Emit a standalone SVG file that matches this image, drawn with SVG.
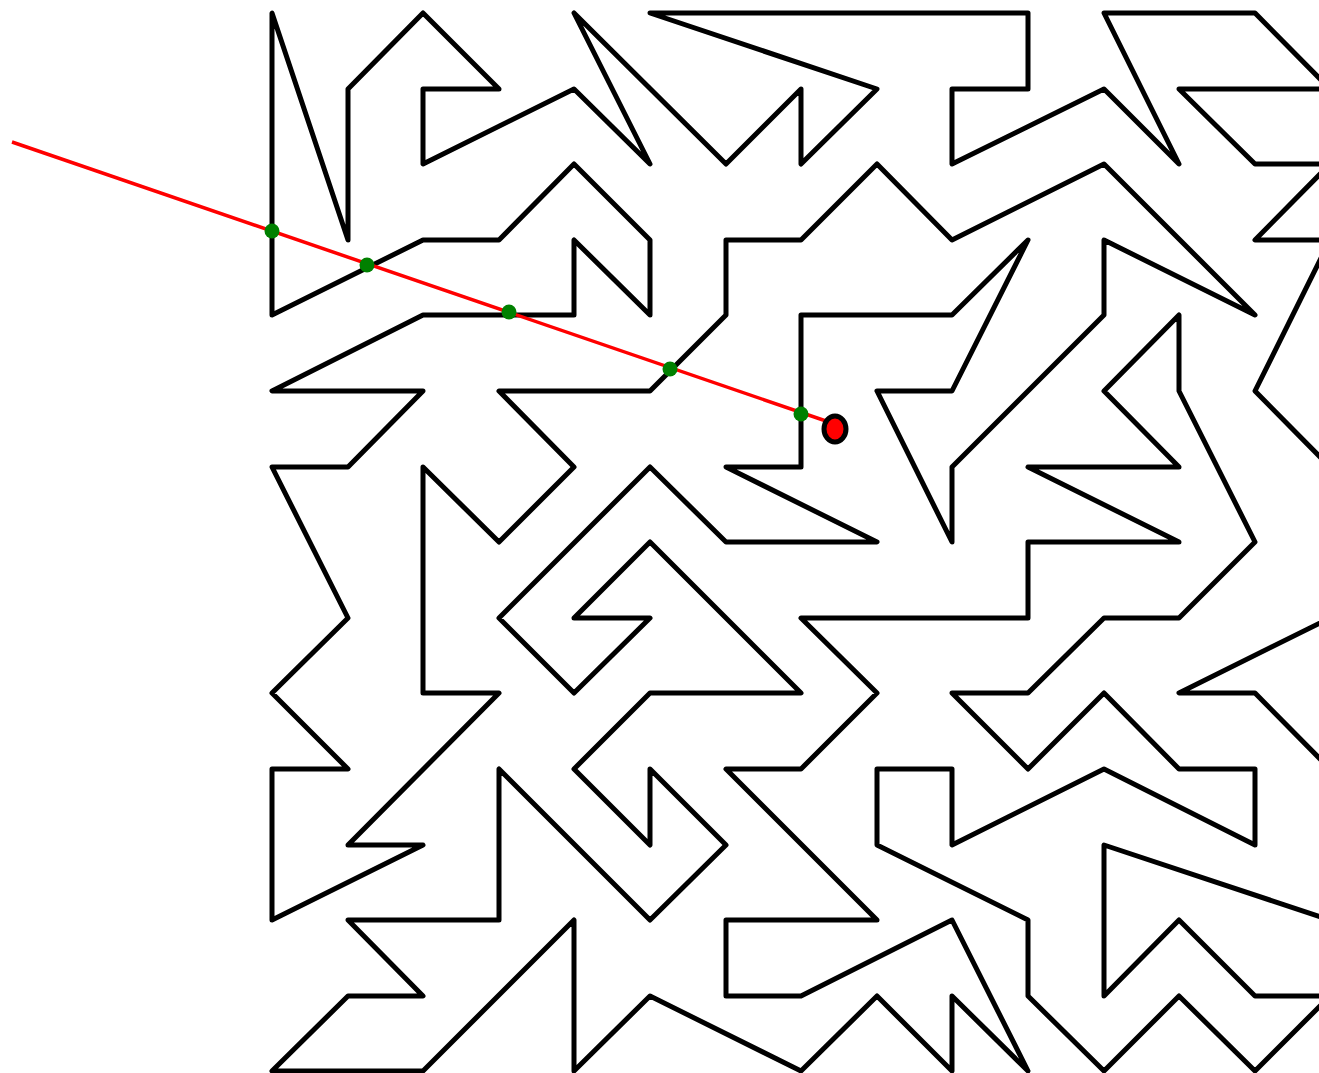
<svg xmlns="http://www.w3.org/2000/svg" width="1319" height="1073" viewBox="0 0 1319 1073">
<style>
.w{fill:none;stroke:#000;stroke-width:5;stroke-linecap:round;stroke-linejoin:round}
.dot{fill:#008000}
</style>
<rect width="1319" height="1073" fill="#fff"/>
<g id="maze">
<polyline class="w" points="1330,89 1255,13 1104,13 1179,164 1104,89 952,164 952,89 1028,89 1028,13 650,13 877,89 801,164 801,89 726,164 574,13 650,164 574,89 423,164 423,89 499,89 423,13 348,89 348,240 272,13 272,315 423,240 499,240 574,164 650,240 650,315 574,240 574,315 423,315 272,391 423,391 348,467 272,467 348,618 272,693 348,769 272,769 272,920 423,845 348,845 499,693 423,693 423,467 499,542 574,467 499,391 650,391 726,315 726,240 801,240 877,164 952,240 1104,164 1255,315 1104,240 1104,315 952,467 952,542 877,391 952,391 1028,240 952,315 801,315 801,467 726,467 877,542 726,542 650,467 499,618 574,693 650,618 574,618 650,542 801,693 650,693 574,769 650,845 650,769 726,845 650,920 499,769 499,920 348,920 423,996 348,996 272,1071 423,1071 574,920 574,1071 650,996 801,1071 877,996 952,1071 952,996 1028,1071 952,920 801,996 726,996 726,920 877,920 726,769 801,769 877,693 801,618 1028,618 1028,542 1179,542 1028,467 1179,467 1104,391 1179,315 1179,391 1255,542 1179,618 1104,618 1028,693 952,693 1028,769 1104,693 1179,769 1255,769 1255,845 1104,769 952,845 952,769 877,769 877,845 1028,920 1028,996 1104,1071 1179,996 1255,1071 1330,996"/>
<polyline class="w" points="1330,89 1179,89 1255,164 1330,164"/>
<polyline class="w" points="1330,164 1255,240 1330,240"/>
<polyline class="w" points="1330,240 1255,391 1330,467"/>
<polyline class="w" points="1330,618 1179,693 1255,693 1330,769"/>
<polyline class="w" points="1330,920 1104,845 1104,996 1179,920 1255,996 1330,996"/>
</g>
<g id="ray">
<line x1="12" y1="142" x2="826" y2="421" stroke="#f00" stroke-width="3.5"/>
</g>
<g id="hits">
<circle class="dot" cx="272" cy="231" r="7.5"/>
<circle class="dot" cx="367" cy="265" r="7.5"/>
<circle class="dot" cx="509" cy="312" r="7.5"/>
<circle class="dot" cx="670" cy="369" r="7.5"/>
<circle class="dot" cx="801" cy="414" r="7.5"/>
</g>
<g id="source">
<ellipse cx="835" cy="429" rx="11" ry="13" fill="#f00" stroke="#000" stroke-width="5"/>
</g>
</svg>
